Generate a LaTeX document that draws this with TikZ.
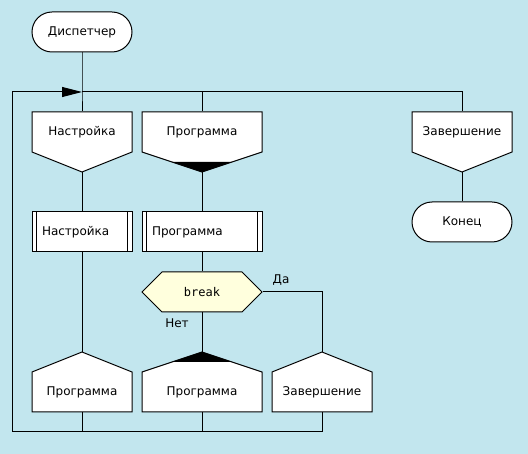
\documentclass[tikz,border=0pt]{standalone}
\usepackage{fontspec}
\setmainfont{DejaVu Sans}
\newfontfamily\drakonmono{DejaVu Sans Mono}
\usetikzlibrary{arrows.meta}

\definecolor{drakonbg}{RGB}{194,230,238}
\definecolor{drakonq}{RGB}{255,255,221}

\tikzset{
  shp/.style={draw, fill=white},
  txt/.style={minimum width=100pt, minimum height=40pt, inner sep=0pt, font=\fontsize{12}{14}\selectfont},
  txtw/.style={txt, minimum width=120pt},
  term/.style={txt, draw, fill=white, rounded corners=20pt},
  act/.style={txt, draw, fill=white, text width=80pt, inner xsep=10pt, align=left},
  lbl/.style={inner sep=0pt, font=\fontsize{12}{14}\selectfont}
}

\begin{document}
\begin{tikzpicture}[x=1pt, y=-1pt, line width=1pt]
  \fill[drakonbg] (0,0) rectangle (528,454);
  \useasboundingbox (0,0) rectangle (528,454);

  % start and end
  \node[term] (disp) at (82,32) {Диспетчер};
  \node[term] (fin) at (462,222) {Конец};

  % branch headers
  \path[shp] (32,112) -| (132,152) -- (82,172) coordinate (hAout) -- (32,152) -- cycle;
  \node[txt] (hA) at (82,132) {Настройка};
  \path[shp] (142,112) -| (262,152) -- (202,172) coordinate (hBout) -- (142,152) -- cycle;
  \fill (172,162) -- (232,162) -- (hBout) -- cycle;
  \node[txtw] (hB) at (202,132) {Программа};
  \path[shp] (412,112) -| (512,152) -- (462,172) coordinate (hCout) -- (412,152) -- cycle;
  \node[txt] (hC) at (462,132) {Завершение};

  % actions
  \node[act] (aA) at (82,232) {Настройка};
  \node[act, minimum width=120pt, text width=100pt] (aB) at (202,232) {Программа};
  \foreach \n in {aA,aB}
    \draw ([xshift=5pt]\n.north west) -- ([xshift=5pt]\n.south west)
          ([xshift=-5pt]\n.north east) -- ([xshift=-5pt]\n.south east);

  % question
  \path[shp, fill=drakonq] (142,292) -- (162,272) -- (242,272) -- (262,292) -- (242,312) -- (162,312) -- cycle;
  \node[txtw, font=\drakonmono\fontsize{12}{14}\selectfont] (brk) at (202,292) {break};
  \node[lbl] (yes) at (281,280) {Да};
  \node[lbl] (no) at (177,323) {Нет};

  % addresses
  \path[shp] (82,352) coordinate (pAin) -- (132,372) |- (32,412) -- (32,372) -- cycle;
  \node[txt] (pA) at (82,392) {Программа};
  \path[shp] (202,352) coordinate (pBin) -- (262,372) |- (142,412) -- (142,372) -- cycle;
  \fill (pBin) -- (232,362) -- (172,362) -- cycle;
  \node[txtw] (pB) at (202,392) {Программа};
  \path[shp] (322,352) coordinate (pCin) -- (372,372) |- (272,412) -- (272,372) -- cycle;
  \node[txt] (pC) at (322,392) {Завершение};

  % connectors
  \coordinate (jTop) at (82,92);
  \coordinate (jBot) at (12,432);
  \draw (disp) -- (jTop) -- (hA);
  \draw (jTop) -| (hC);
  \draw (hB) -- (hB |- jTop);
  \draw (hAout) -- (aA);
  \draw (aA) -- (pAin);
  \draw (pA) -- (pA |- jBot);
  \draw (hBout) -- (aB);
  \draw (aB) -- (brk);
  \draw (brk) -- (pBin);
  \draw (pB) -- (pB |- jBot);
  \draw (brk) -| (pCin);
  \draw[-{Triangle[length=20pt, width=10pt]}] (pC) |- (jBot) |- (jTop);
  \draw (hCout) -- (fin);
\end{tikzpicture}
\end{document}
